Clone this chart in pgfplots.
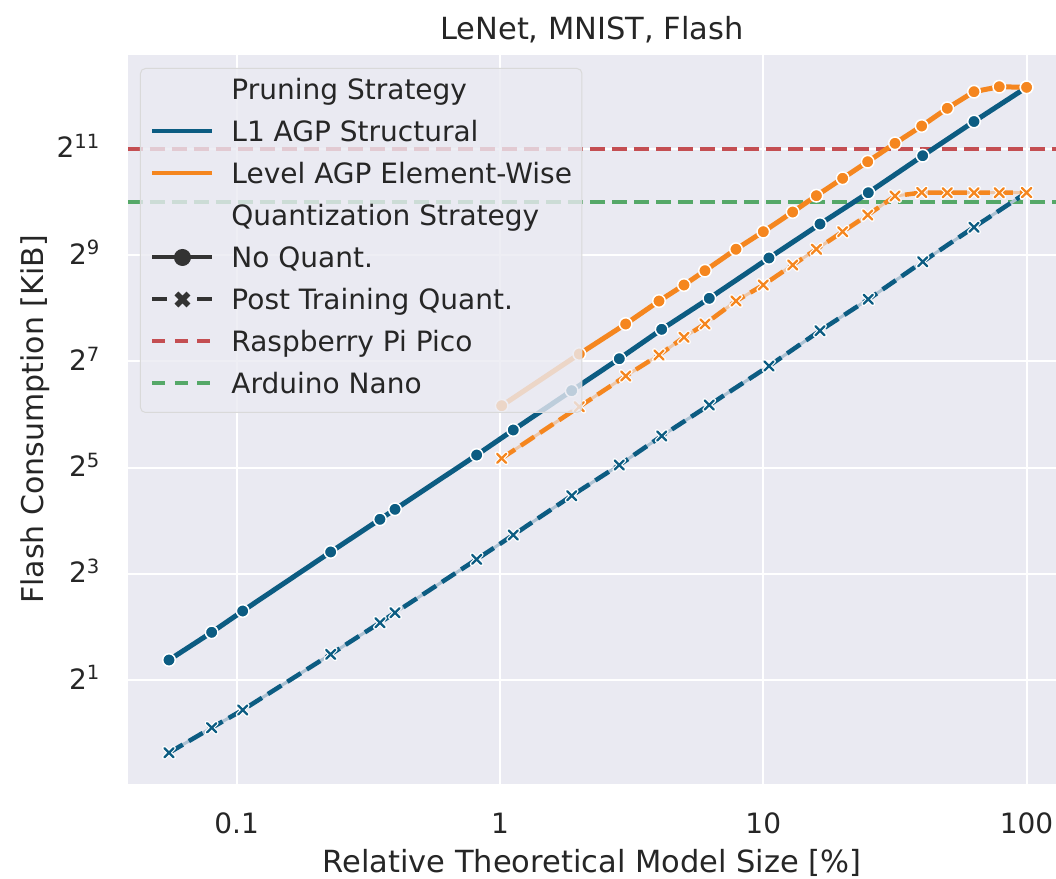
\documentclass[border=0pt]{standalone}
\usepackage{fontspec}
\setmainfont{DejaVu Sans}
\usepackage{pgfplots}
\pgfplotsset{compat=1.18}
\definecolor{bgc}{HTML}{EAEAF2}
\definecolor{blueC}{HTML}{0C5C82}
\definecolor{orangeC}{HTML}{F5861F}
\definecolor{redC}{HTML}{C44E52}
\definecolor{greenC}{HTML}{55A868}
\definecolor{txt}{HTML}{262626}
\definecolor{dk}{HTML}{333333}

\pgfdeclareplotmark{xblue}{%
  \pgfsetdash{}{0pt}\pgfsetroundcap
  \pgfsetlinewidth{4.6pt}\pgfsetstrokecolor{white}%
  \pgfpathmoveto{\pgfpoint{-4.6pt}{-4.6pt}}\pgfpathlineto{\pgfpoint{4.6pt}{4.6pt}}%
  \pgfpathmoveto{\pgfpoint{-4.6pt}{4.6pt}}\pgfpathlineto{\pgfpoint{4.6pt}{-4.6pt}}%
  \pgfusepathqstroke
  \pgfsetlinewidth{2.3pt}\pgfsetstrokecolor{blueC}%
  \pgfpathmoveto{\pgfpoint{-4.6pt}{-4.6pt}}\pgfpathlineto{\pgfpoint{4.6pt}{4.6pt}}%
  \pgfpathmoveto{\pgfpoint{-4.6pt}{4.6pt}}\pgfpathlineto{\pgfpoint{4.6pt}{-4.6pt}}%
  \pgfusepathqstroke}
\pgfdeclareplotmark{xorange}{%
  \pgfsetdash{}{0pt}\pgfsetroundcap
  \pgfsetlinewidth{4.6pt}\pgfsetstrokecolor{white}%
  \pgfpathmoveto{\pgfpoint{-4.6pt}{-4.6pt}}\pgfpathlineto{\pgfpoint{4.6pt}{4.6pt}}%
  \pgfpathmoveto{\pgfpoint{-4.6pt}{4.6pt}}\pgfpathlineto{\pgfpoint{4.6pt}{-4.6pt}}%
  \pgfusepathqstroke
  \pgfsetlinewidth{2.3pt}\pgfsetstrokecolor{orangeC}%
  \pgfpathmoveto{\pgfpoint{-4.6pt}{-4.6pt}}\pgfpathlineto{\pgfpoint{4.6pt}{4.6pt}}%
  \pgfpathmoveto{\pgfpoint{-4.6pt}{4.6pt}}\pgfpathlineto{\pgfpoint{4.6pt}{-4.6pt}}%
  \pgfusepathqstroke}

\begin{document}
\begin{tikzpicture}
\begin{axis}[
  scale only axis, width=928pt, height=729pt,
  xmode=log, ymode=log, log basis y=2, log basis x=10,
  xmin=0.03866, xmax=129.34, ymin=0.5149, ymax=6961,
  axis background/.style={fill=bgc},
  axis line style={draw=none},
  major tick length=0pt, minor tick length=0pt,
  xtick={0.1,1,10,100}, xticklabels={{0.1},{1},{10},{100}},
  ytick={2,8,32,128,512,2048},
  yticklabels={2\textsuperscript{1},2\textsuperscript{3},2\textsuperscript{5},2\textsuperscript{7},2\textsuperscript{9},2\textsuperscript{11}},
  xmajorgrids, ymajorgrids, xminorgrids=false, yminorgrids=false,
  major grid style={white, line width=2pt},
  tick label style={font=\fontsize{28}{34}\selectfont, text=txt, inner sep=0pt},
  xticklabel style={anchor=base, yshift=-49pt},
  yticklabel style={anchor=base east, xshift=-28pt, yshift=-9pt},
  xlabel={Relative Theoretical Model Size [\%]},
  ylabel={Flash Consumption [KiB]},
  every axis x label/.style={at={(axis description cs:0.5,-0.1078)}, anchor=center, font=\fontsize{30.5}{36}\selectfont, text=txt},
  every axis y label/.style={at={(axis description cs:-0.1002,0.5)}, anchor=center, rotate=90, font=\fontsize{30}{36}\selectfont, text=txt},
  title={LeNet, MNIST, Flash},
  title style={at={(axis description cs:0.5,1.026)}, anchor=center, font=\fontsize{30.5}{36}\selectfont, text=txt},
  legend cell align=left,
  legend style={at={(axis description cs:0.0129,0.9822)}, anchor=north west,
    fill=bgc, fill opacity=0.8, draw opacity=1, text opacity=1, draw=black!15,
    rounded corners=5pt, line width=1pt,
    font=\fontsize{28}{34}\selectfont, text=txt,
    inner xsep=10pt, inner ysep=11pt, row sep=14pt, column sep=17pt,
    nodes={inner sep=0pt, text height=20pt, text depth=8pt}},
]
% reference lines
\addplot[redC, line width=4pt, dash pattern=on 15pt off 7pt, forget plot] coordinates {(0.03866,2048) (129.34,2048)};
\addplot[greenC, line width=4pt, dash pattern=on 15pt off 7pt, forget plot] coordinates {(0.03866,1024) (129.34,1024)};

% L1 AGP Structural, No Quant.
\addplot[blueC, line width=5pt, mark=*, mark size=6.3pt, mark options={fill=blueC, draw=white, line width=1.5pt, solid}, forget plot] coordinates {
(0.05533,2.597) (0.08035,3.727) (0.1054,4.921) (0.2275,10.63) (0.3501,16.28) (0.3994,18.55) (0.8156,37.67) (1.123,52.2) (1.872,87.2) (2.839,132.3) (4.113,194.2) (6.235,291.0) (10.51,492.4) (16.42,767.3) (25.05,1154) (40.31,1870) (63.13,2922) (100,4565)};

% L1 AGP Structural, PTQ
\addplot[blueC!28!bgc, line width=3pt, forget plot] coordinates {
(0.05533,0.7746) (0.08035,1.073) (0.1054,1.352) (0.2275,2.797) (0.3501,4.224) (0.3994,4.813) (0.8156,9.66) (1.123,13.26) (1.872,22.15) (2.839,33.07) (4.113,48.27) (6.235,72.33) (10.51,120.3) (16.42,190.7) (25.05,287.3) (40.31,469.2) (63.13,735.9) (100,1157)};
\addplot[blueC, line width=4.5pt, dash pattern=on 16pt off 7pt, mark=xblue, forget plot] coordinates {
(0.05533,0.7746) (0.08035,1.073) (0.1054,1.352) (0.2275,2.797) (0.3501,4.224) (0.3994,4.813) (0.8156,9.66) (1.123,13.26) (1.872,22.15) (2.839,33.07) (4.113,48.27) (6.235,72.33) (10.51,120.3) (16.42,190.7) (25.05,287.3) (40.31,469.2) (63.13,735.9) (100,1157)};

% Level AGP Element-Wise, No Quant.
\addplot[orangeC, line width=5pt, mark=*, mark size=6.3pt, mark options={fill=orangeC, draw=white, line width=1.5pt, solid}, forget plot] coordinates {
(1.015,71.67) (2.001,140.7) (3.002,208.1) (4.017,280.9) (4.998,346.2) (6.005,417.2) (7.877,552.2) (10,694.0) (12.93,897.2) (15.91,1110) (20.02,1393) (24.92,1730) (31.64,2199) (39.96,2756) (49.97,3472) (63.13,4312) (78.76,4601) (100,4565)};

% Level AGP Element-Wise, PTQ
\addplot[orangeC!35!bgc, line width=3pt, forget plot] coordinates {
(1.015,36.08) (2.001,70.74) (3.002,105.6) (4.017,138.9) (4.998,175.0) (6.005,208.1) (7.877,280.9) (10,346.2) (12.93,449.4) (15.91,552.2) (20.02,694.0) (24.92,862.7) (31.64,1105) (39.96,1157) (49.97,1154) (63.13,1154) (78.76,1154) (100,1157)};
\addplot[orangeC, line width=4.5pt, dash pattern=on 16pt off 7pt, mark=xorange, forget plot] coordinates {
(1.015,36.08) (2.001,70.74) (3.002,105.6) (4.017,138.9) (4.998,175.0) (6.005,208.1) (7.877,280.9) (10,346.2) (12.93,449.4) (15.91,552.2) (20.02,694.0) (24.92,862.7) (31.64,1105) (39.96,1157) (49.97,1154) (63.13,1154) (78.76,1154) (100,1157)};

% legend
\addlegendimage{empty legend}
\addlegendentry{Pruning Strategy}
\addlegendimage{legend image code/.code={\draw[blueC, line width=4pt, draw opacity=1] (0pt,4pt) -- (60pt,4pt);}}
\addlegendentry{L1 AGP Structural}
\addlegendimage{legend image code/.code={\draw[orangeC, line width=4pt, draw opacity=1] (0pt,4pt) -- (60pt,4pt);}}
\addlegendentry{Level AGP Element-Wise}
\addlegendimage{empty legend}
\addlegendentry{Quantization Strategy}
\addlegendimage{legend image code/.code={\draw[dk, line width=4pt, draw opacity=1] (0pt,4pt) -- (60pt,4pt); \fill[dk, fill opacity=1] (30pt,4pt) circle (8pt);}}
\addlegendentry{No Quant.}
\addlegendimage{legend image code/.code={\draw[dk, line width=4pt, draw opacity=1] (0pt,4pt) -- (15pt,4pt) (45pt,4pt) -- (60pt,4pt); \draw[dk, line width=5.5pt, draw opacity=1] (24pt,-2pt) -- (36pt,10pt) (24pt,10pt) -- (36pt,-2pt);}}
\addlegendentry{Post Training Quant.}
\addlegendimage{legend image code/.code={\draw[redC, line width=4pt, draw opacity=1, dash pattern=on 13pt off 9.5pt] (0pt,4pt) -- (60pt,4pt);}}
\addlegendentry{Raspberry Pi Pico}
\addlegendimage{legend image code/.code={\draw[greenC, line width=4pt, draw opacity=1, dash pattern=on 13pt off 9.5pt] (0pt,4pt) -- (60pt,4pt);}}
\addlegendentry{Arduino Nano}
\end{axis}
\pgfresetboundingbox
\path[use as bounding box] (-128pt,-94pt) rectangle (928pt,784pt);
\end{tikzpicture}
\end{document}
